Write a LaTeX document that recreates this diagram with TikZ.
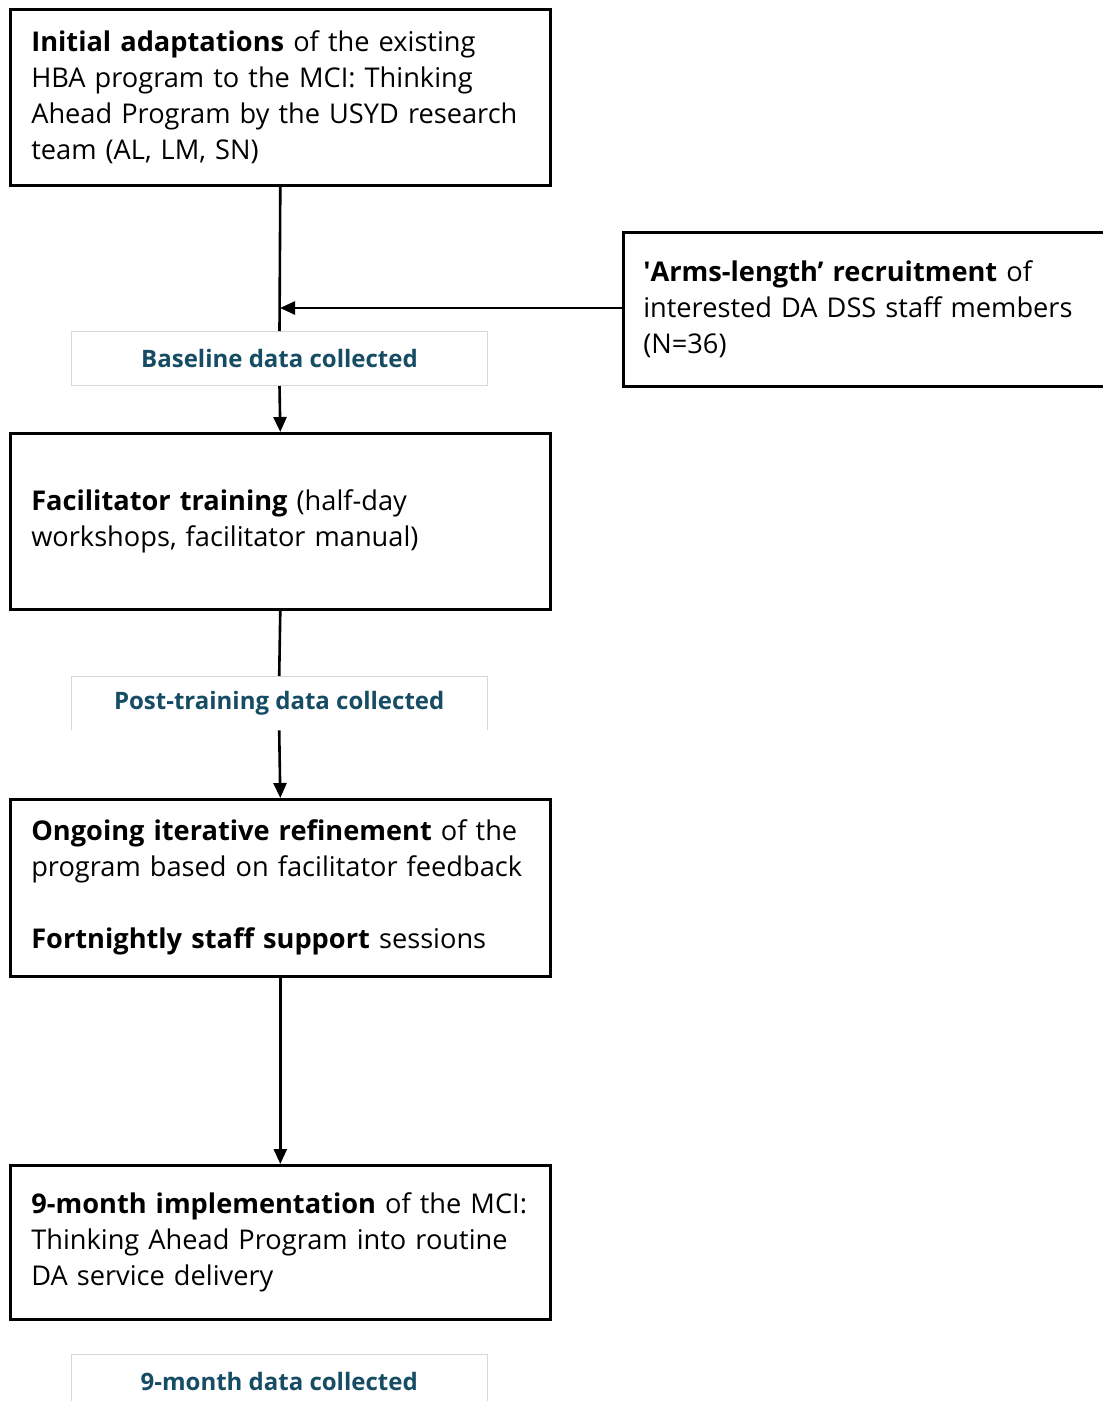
\documentclass[tikz,border=0pt]{standalone}
\usepackage{fontspec}
\setmainfont{Open Sans}
\usetikzlibrary{arrows.meta}
\definecolor{labelteal}{RGB}{22,76,100}
\definecolor{labeledge}{RGB}{215,215,215}
\begin{document}
\begin{tikzpicture}[x=1pt,y=-1pt,
  stepbox/.style={draw=black, line width=2.6pt, rectangle, anchor=north west,
    minimum width=540pt, inner xsep=20pt, text width=498pt, align=left,
    font=\fontsize{27.2}{36}\selectfont},
  datalabel/.style={rectangle, anchor=north west, fill=white,
    minimum width=416pt, minimum height=54pt, inner sep=0pt,
    text=labelteal, font=\fontsize{24}{28}\selectfont\bfseries},
  labelline/.style={draw=labeledge, line width=1pt},
  flow/.style={line width=2.6pt},
  flowarrow/.style={line width=2.6pt, -{Triangle[length=15pt,width=13pt]}}]
\useasboundingbox (0,0) rectangle (1103,1401);

% main column of steps
\node[stepbox, minimum height=176pt] (adapt) at (9,8)
  {\textbf{Initial adaptations} of the existing\\HBA program to the MCI: Thinking\\Ahead Program by the USYD research\\team (AL, LM, SN)};
\node[stepbox, minimum height=176pt] (train) at (9,432)
  {\textbf{Facilitator training} (half-day\\workshops, facilitator manual)};
\node[stepbox, minimum height=177pt] (refine) at (9,798)
  {\textbf{Ongoing iterative refinement} of the\\program based on facilitator feedback\\[36pt]\textbf{Fortnightly staff support} sessions};
\node[stepbox, minimum height=154pt] (impl) at (9,1164)
  {\textbf{9-month implementation} of the MCI:\\Thinking Ahead Program into routine\\DA service delivery};

% recruitment box on the right, running past the edge
\node[stepbox, minimum width=520pt, inner xsep=15pt, text width=480pt, minimum height=154pt] (recruit) at (622,231)
  {\textbf{\textquotesingle Arms-length’ recruitment} of\\interested DA DSS staff members\\(N=36)};

% data collection labels
\node[datalabel, draw=labeledge, line width=1pt] (base) at (71,331) {Baseline data collected};
\node[datalabel] (post) at (71,676) {Post-training data collected};
\node[datalabel] (nine) at (71,1354) {9-month data collected};
\draw[labelline] (post.south west) -- (post.north west) -- (post.north east) -- (post.south east);
\draw[labelline] ([yshift=-20pt]nine.south west) -- (nine.north west) -- (nine.north east) -- ([yshift=-20pt]nine.south east);

% connectors
\coordinate (join) at (280,308);
\draw[flow] (adapt.south) -- (base.north);
\draw[flowarrow] (recruit.west |- join) -- (join);
\draw[flowarrow] (base.south) -- (train.north);
\draw[flow] (train.south) -- (post.north);
\draw[flowarrow] (post.south) -- (refine.north);
\draw[flowarrow] (refine.south) -- (impl.north);
\end{tikzpicture}
\end{document}
